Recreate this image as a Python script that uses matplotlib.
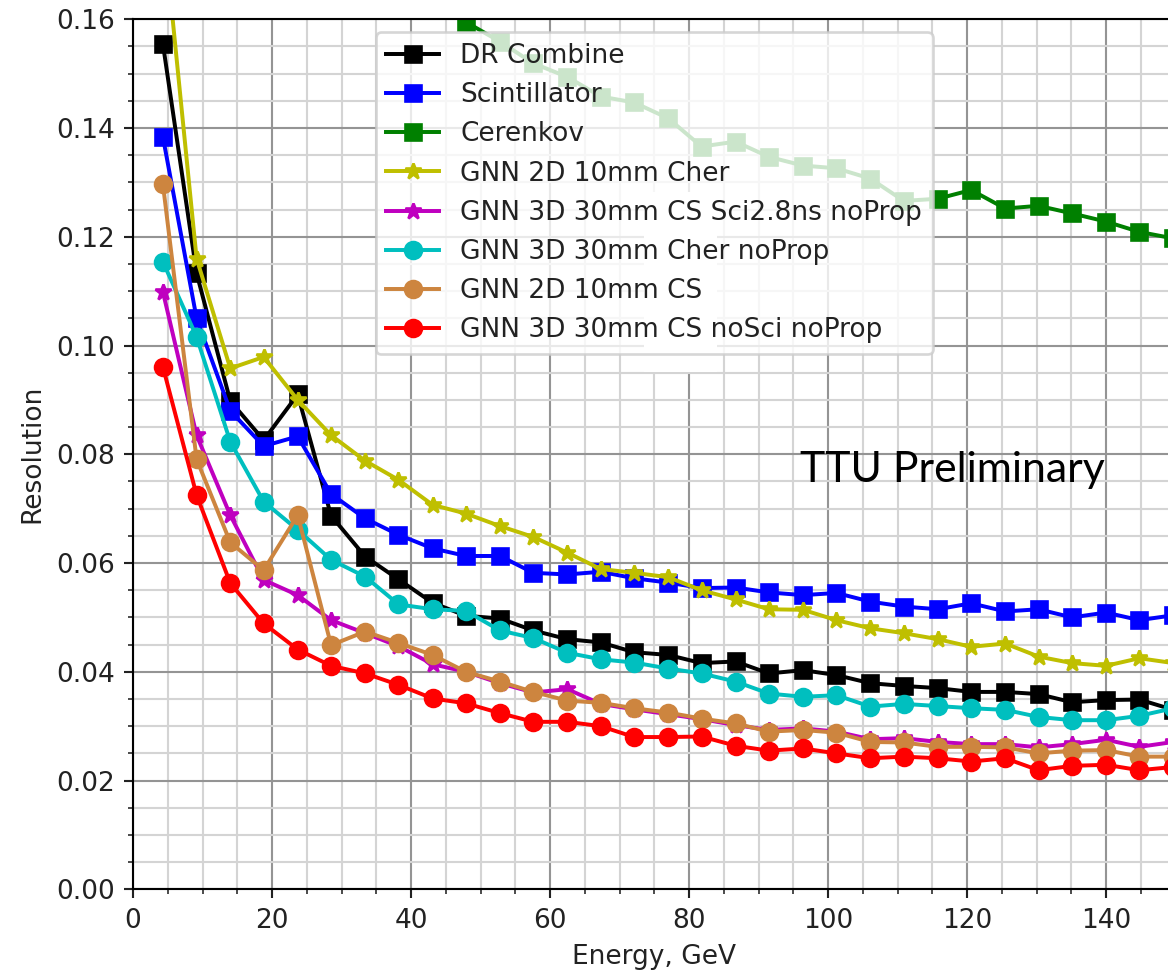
import matplotlib
matplotlib.use("Agg")
import matplotlib.pyplot as plt
from matplotlib.patches import Rectangle
from matplotlib.ticker import MultipleLocator

# ---- data ----
energy = [4.3, 9.15, 14.0, 18.8, 23.7, 28.5, 33.4, 38.2, 43.1, 47.9, 52.8, 57.6, 62.5,
          67.3, 72.1, 77.0, 81.8, 86.7, 91.5, 96.4, 101.2, 106.1, 110.9, 115.8, 120.6,
          125.5, 130.3, 135.1, 140.0, 144.8, 149.7]

dr_combine = [0.1555, 0.1133, 0.0898, 0.0826, 0.0910, 0.0687, 0.0612, 0.0570, 0.0527, 0.0503,
              0.0498, 0.0476, 0.0460, 0.0454, 0.0436, 0.0431, 0.0416, 0.0419, 0.0397, 0.0403,
              0.0394, 0.0379, 0.0374, 0.0370, 0.0363, 0.0363, 0.0359, 0.0344, 0.0348, 0.0349,
              0.0330]
scintillator = [0.1384, 0.1050, 0.0880, 0.0815, 0.0833, 0.0727, 0.0682, 0.0652, 0.0627, 0.0613,
                0.0613, 0.0582, 0.0579, 0.0584, 0.0572, 0.0564, 0.0554, 0.0555, 0.0546, 0.0541,
                0.0545, 0.0529, 0.0520, 0.0515, 0.0526, 0.0511, 0.0515, 0.0500, 0.0509, 0.0495,
                0.0504]
cerenkov = [0.420, 0.300, 0.250, 0.220, 0.200, 0.188, 0.180, 0.176, 0.172, 0.1595,
            0.1559, 0.1519, 0.1494, 0.1458, 0.1447, 0.1418, 0.1366, 0.1375, 0.1347, 0.1331,
            0.1326, 0.1307, 0.1266, 0.1270, 0.1286, 0.1252, 0.1257, 0.1243, 0.1228, 0.1209,
            0.1197]
gnn2d_cher = [0.178, 0.1160, 0.0958, 0.0979, 0.0900, 0.0835, 0.0788, 0.0753, 0.0707, 0.0691,
              0.0668, 0.0648, 0.0619, 0.0589, 0.0582, 0.0574, 0.0550, 0.0533, 0.0515, 0.0514,
              0.0495, 0.0480, 0.0471, 0.0460, 0.0446, 0.0452, 0.0428, 0.0416, 0.0411, 0.0425,
              0.0416]
gnn3d_cs_sci = [0.1099, 0.0835, 0.0688, 0.0569, 0.0541, 0.0495, 0.0471, 0.0447, 0.0414, 0.0400,
                0.0379, 0.0362, 0.0368, 0.0341, 0.0331, 0.0322, 0.0313, 0.0302, 0.0293, 0.0296,
                0.0290, 0.0276, 0.0278, 0.0271, 0.0267, 0.0267, 0.0261, 0.0267, 0.0275, 0.0262,
                0.0271]
gnn3d_cher = [0.1154, 0.1016, 0.0823, 0.0713, 0.0661, 0.0606, 0.0575, 0.0524, 0.0515, 0.0512,
              0.0476, 0.0462, 0.0435, 0.0423, 0.0417, 0.0406, 0.0397, 0.0382, 0.0360, 0.0354,
              0.0357, 0.0336, 0.0341, 0.0337, 0.0333, 0.0330, 0.0317, 0.0311, 0.0311, 0.0319,
              0.0333]
gnn2d_cs = [0.1297, 0.0791, 0.0638, 0.0587, 0.0688, 0.0449, 0.0474, 0.0453, 0.0431, 0.0400,
            0.0382, 0.0363, 0.0347, 0.0343, 0.0333, 0.0325, 0.0314, 0.0305, 0.0290, 0.0293,
            0.0288, 0.0271, 0.0270, 0.0262, 0.0262, 0.0261, 0.0250, 0.0255, 0.0256, 0.0244,
            0.0244]
gnn3d_cs_nosci = [0.0961, 0.0725, 0.0563, 0.0489, 0.0441, 0.0411, 0.0397, 0.0376, 0.0351, 0.0342,
                  0.0324, 0.0308, 0.0308, 0.0300, 0.0280, 0.0280, 0.0281, 0.0264, 0.0255, 0.0259,
                  0.0250, 0.0241, 0.0244, 0.0241, 0.0235, 0.0241, 0.0219, 0.0227, 0.0229, 0.0219,
                  0.0225]

labels = ["DR Combine", "Scintillator", "Cerenkov", "GNN 2D 10mm Cher",
          "GNN 3D 30mm CS Sci2.8ns noProp", "GNN 3D 30mm Cher noProp",
          "GNN 2D 10mm CS", "GNN 3D 30mm CS noSci noProp"]
series = [dr_combine, scintillator, cerenkov, gnn2d_cher, gnn3d_cs_sci,
          gnn3d_cher, gnn2d_cs, gnn3d_cs_nosci]
styles = [("k", "s"), ("b", "s"), ("g", "s"), ("y", "*"), ("m", "*"),
          ("c", "o"), ("peru", "o"), ("r", "o")]

W, H = 1168, 971
DPI = 190
fig = plt.figure(figsize=(W / DPI, H / DPI), dpi=DPI)

x0_px, x150_px = 133, 133 + 150 * 6.95
ytop_px, ybot_px = 19.3, 889.3
ax = fig.add_axes([x0_px / W, (H - ybot_px) / H, (x150_px - x0_px) / W, (ybot_px - ytop_px) / H])

for vals, lab, (col, mk) in zip(series, labels, styles):
    ax.plot(energy, vals, color=col, marker=mk, markersize=6.4, label=lab)

ax.set_xlim(0, 150)
ax.set_ylim(0, 0.16)
ax.xaxis.set_major_locator(MultipleLocator(20))
ax.xaxis.set_minor_locator(MultipleLocator(5))
ax.yaxis.set_major_locator(MultipleLocator(0.02))
ax.yaxis.set_minor_locator(MultipleLocator(0.005))
ax.grid(which="major", color="#949494", linewidth=0.8)
ax.grid(which="minor", color="#d4d4d4", linewidth=0.8)
ax.tick_params(colors="#222222", which="both")
ax.set_xlabel("Energy, GeV", color="#222222")
ax.set_ylabel("Resolution", color="#222222")
ax.spines["right"].set_visible(False)

leg = ax.legend(loc="upper center")
leg.set_zorder(5)
for t in leg.get_texts():
    t.set_color("#222222")

# white patch hiding grid behind part of the legend
ax.add_patch(Rectangle((644 / W, (H - 372) / H), 73 / W, 180 / H,
                       transform=fig.transFigure, facecolor="white",
                       edgecolor="none", zorder=4))

fig.text(800 / W, (H - 482) / H, "TTU Preliminary", family="Lato",
         fontsize=16.2, ha="left", va="baseline", color="black")

fig.savefig("out.png", dpi=DPI)
